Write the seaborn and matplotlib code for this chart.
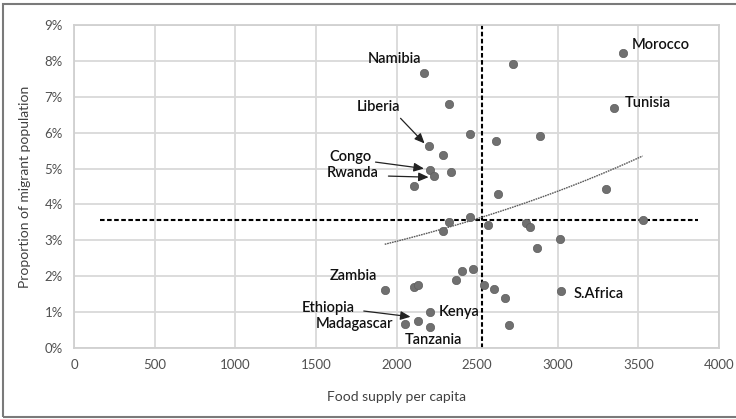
import numpy as np
import pandas as pd
import matplotlib
matplotlib.use("Agg")
import matplotlib.pyplot as plt
import seaborn as sns
from matplotlib.patches import Rectangle

# ---- data ----
food_supply = [2169, 2722, 3406, 2327, 3350, 2201, 2453, 2619, 2888, 2290,
               2207, 2230, 2337, 2110, 2629, 3298, 2327, 2455, 2569, 2286,
               2803, 2830, 2874, 3014, 3526, 2404, 2472, 2368, 1927, 2110,
               2132, 2542, 2607, 2673, 3023, 2205, 2132, 2054, 2205, 2700]
migrant_pct = [7.67, 7.91, 8.21, 6.81, 6.70, 5.64, 5.96, 5.78, 5.91, 5.38,
               4.96, 4.78, 4.91, 4.52, 4.29, 4.42, 3.52, 3.64, 3.43, 3.26,
               3.47, 3.36, 2.78, 3.03, 3.57, 2.14, 2.19, 1.89, 1.63, 1.71,
               1.75, 1.75, 1.65, 1.40, 1.59, 1.00, 0.75, 0.67, 0.58, 0.65]
mean_food = 2532
mean_migrant = 3.57
# exponential trendline endpoints as drawn in the reference
trend_x = [1927, 3526]
trend_y = [2.89, 5.35]
x_ticks = [0, 500, 1000, 1500, 2000, 2500, 3000, 3500, 4000]
y_ticks = [0, 1, 2, 3, 4, 5, 6, 7, 8, 9]
y_tick_labels = [f"{v}%" for v in y_ticks]

df = pd.DataFrame({"food": food_supply, "migrant": migrant_pct})

sns.set_theme(style="white")
plt.rcParams["font.family"] = ["Lato", "DejaVu Sans"]

fig = plt.figure(figsize=(7.36, 4.19), dpi=100)
ax = fig.add_axes([74 / 736, 71 / 419, 645 / 736, 323 / 419])

# grid
ax.set_xlim(0, 4000)
ax.set_ylim(0, 9)
ax.set_xticks(x_ticks)
ax.set_yticks(y_ticks)
ax.set_yticklabels(y_tick_labels)
ax.grid(True, color="#d9d9d9", lw=1.3)
ax.set_axisbelow(True)
for s in ax.spines.values():
    s.set_color("#d0d0d0")
    s.set_linewidth(1.3)
ax.tick_params(length=0, labelsize=9.5, colors="#505050", pad=8)

# mean lines
ax.axvline(mean_food, color="black", lw=1.5, ls=(0, (2.2, 1.2)), zorder=2)
ax.plot([161, 3867], [mean_migrant, mean_migrant], color="black", lw=1.5,
        ls=(0, (2.2, 1.2)), zorder=2)

# exponential trendline through the read endpoints
b = np.log(trend_y[1] / trend_y[0]) / (trend_x[1] - trend_x[0])
xt = np.linspace(trend_x[0], trend_x[1], 100)
ax.plot(xt, trend_y[0] * np.exp(b * (xt - trend_x[0])), color="#5a5a5a", lw=1.0,
        ls=(0, (1.2, 0.6)), zorder=2)

sns.scatterplot(data=df, x="food", y="migrant", ax=ax, s=36,
                color="#707070", edgecolor="#5e5e5e", linewidth=0.5, zorder=3)

ax.set_xlabel("Food supply per capita", fontsize=10, color="#404040", labelpad=14)
ax.set_ylabel("Proportion of migrant population", fontsize=10, color="#404040", labelpad=10)

# labels
tk = dict(fontsize=10.5, color="#111111", va="center", fontweight="semibold")
ax.text(1988, 8.05, "Namibia", ha="center", **tk)
ax.text(3458, 8.44, "Morocco", ha="left", **tk)
ax.text(3416, 6.84, "Tunisia", ha="left", **tk)
ax.text(1888, 6.71, "Liberia", ha="center", **tk)
ax.text(1714, 5.32, "Congo", ha="center", **tk)
ax.text(1727, 4.87, "Rwanda", ha="center", **tk)
ax.text(1733, 2.01, "Zambia", ha="center", **tk)
ax.text(1578, 1.11, "Ethiopia", ha="center", **tk)
ax.text(1981, 0.66, "Madagascar", ha="right", **tk)
ax.text(2259, 1.01, "Kenya", ha="left", **tk)
ax.text(2227, 0.22, "Tanzania", ha="center", **tk)
ax.text(3097, 1.50, "S.Africa", ha="left", **tk)

ap = dict(arrowstyle="-|>,head_length=0.5,head_width=0.22", color="#222222", lw=0.9,
          shrinkA=0, shrinkB=0)
for start, end in [((2025, 6.40), (2174, 5.70)),
                   ((1870, 5.18), (2170, 5.00)),
                   ((1950, 4.79), (2199, 4.76)),
                   ((1797, 1.03), (2087, 0.87))]:
    ax.annotate("", xy=end, xytext=start, arrowprops=ap, zorder=4)

# outer frame
fig.patches.append(Rectangle((3 / 736, 2 / 419), 740 / 736, 413 / 419,
                             transform=fig.transFigure, fill=False,
                             edgecolor="#7a7a7a", lw=1.5))

fig.savefig("out.png", dpi=100)
